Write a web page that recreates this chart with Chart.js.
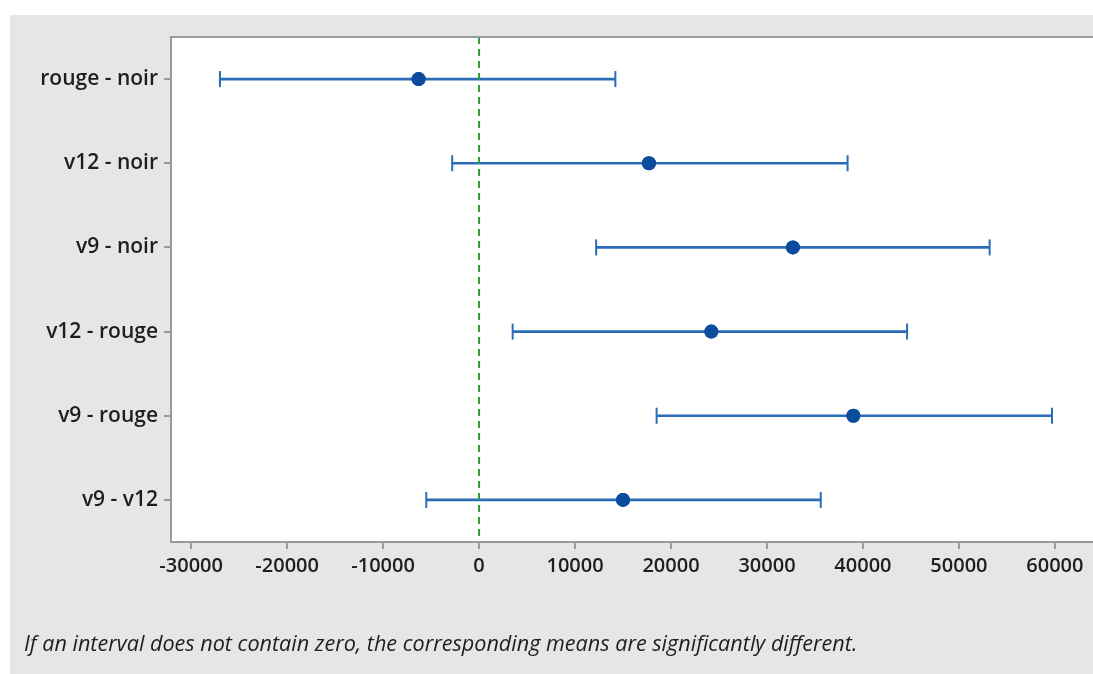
<!DOCTYPE html>
<html>
<head>
<meta charset="utf-8">
<script src="https://cdn.jsdelivr.net/npm/chart.js@4.4.1/dist/chart.umd.min.js"></script>
<style>
  html, body { margin: 0; padding: 0; background: #ffffff; overflow: hidden; width: 1093px; height: 674px; }
  #bg { position: absolute; left: 10px; top: 15px; width: 1100px; height: 680px; background: #e6e6e6; }
  #wrap { position: absolute; left: 0; top: 0; width: 1110px; height: 674px; }
  #note { position: absolute; left: 24px; top: 628px; font-family: 'Open Sans', sans-serif; font-style: italic; font-size: 21.6px; color: #1e1e1e; white-space: nowrap; }
</style>
</head>
<body>
<div id="bg"></div>
<div id="wrap"><canvas id="c" width="1110" height="674"></canvas></div>
<div id="note">If an interval does not contain zero, the corresponding means are significantly different.</div>
<script>
const categories = ['rouge - noir', 'v12 - noir', 'v9 - noir', 'v12 - rouge', 'v9 - rouge', 'v9 - v12'];
const lowerBounds = [-27000, -2800, 12200, 3500, 18500, -5500];
const centers     = [-6300, 17700, 32700, 24200, 39000, 15000];
const upperBounds = [14200, 38400, 53200, 44600, 59700, 35600];
const xTickValues = [-30000, -20000, -10000, 0, 10000, 20000, 30000, 40000, 50000, 60000];
const referenceValue = 0;

const LINE_BLUE = '#2b6cb8';
const MARK_BLUE = '#0b4d9c';

const framePlugin = {
  id: 'frame',
  beforeDraw(chart) {
    const { ctx, chartArea: a } = chart;
    ctx.save();
    ctx.fillStyle = '#ffffff';
    ctx.fillRect(a.left, a.top, a.right - a.left, a.bottom - a.top);
    ctx.restore();
  },
  afterDatasetsDraw(chart) {
    const { ctx, chartArea: a, scales } = chart;
    const xs = scales.x, ys = scales.y;
    ctx.save();
    ctx.strokeStyle = LINE_BLUE;
    ctx.lineWidth = 2;
    for (let i = 0; i < categories.length; i++) {
      const y = ys.getPixelForValue(i);
      [lowerBounds[i], upperBounds[i]].forEach(v => {
        const x = xs.getPixelForValue(v);
        ctx.beginPath();
        ctx.moveTo(x, y - 8);
        ctx.lineTo(x, y + 8);
        ctx.stroke();
      });
    }
    const x0 = xs.getPixelForValue(referenceValue);
    ctx.strokeStyle = '#2f9a3a';
    ctx.lineWidth = 2;
    ctx.setLineDash([7, 5]);
    ctx.beginPath();
    ctx.moveTo(x0, a.top);
    ctx.lineTo(x0, a.bottom);
    ctx.stroke();
    ctx.setLineDash([]);
    const meta = chart.getDatasetMeta(1);
    ctx.fillStyle = MARK_BLUE;
    meta.data.forEach(p => {
      ctx.beginPath();
      ctx.arc(p.x, p.y, 7, 0, Math.PI * 2);
      ctx.fill();
    });
    ctx.strokeStyle = '#9a9a9a';
    ctx.lineWidth = 2;
    ctx.strokeRect(a.left, a.top, a.right - a.left, a.bottom - a.top);
    ctx.restore();
  }
};

new Chart(document.getElementById('c'), {
  type: 'bar',
  data: {
    labels: categories,
    datasets: [
      {
        type: 'bar',
        data: lowerBounds.map((l, i) => [l, upperBounds[i]]),
        backgroundColor: LINE_BLUE,
        borderWidth: 0,
        barThickness: 2,
        order: 2
      },
      {
        type: 'line',
        indexAxis: 'y',
        data: centers,
        showLine: false,
        pointStyle: 'circle',
        pointRadius: 7,
        pointBackgroundColor: MARK_BLUE,
        pointBorderWidth: 0,
        order: 1
      }
    ]
  },
  options: {
    indexAxis: 'y',
    responsive: false,
    animation: false,
    layout: { padding: { top: 37, right: 10, bottom: 0, left: 0 } },
    plugins: { legend: { display: false }, tooltip: { enabled: false } },
    scales: {
      x: {
        type: 'linear',
        min: -32100,
        max: 64700,
        afterBuildTicks(scale) { scale.ticks = xTickValues.map(v => ({ value: v })); },
        afterFit(scale) { scale.height = 132; },
        grid: { drawOnChartArea: false, drawTicks: true, tickLength: 7, color: '#9a9a9a', lineWidth: 2 },
        border: { display: false },
        ticks: {
          color: '#1e1e1e',
          padding: 5,
          maxRotation: 0,
          autoSkip: false,
          font: { family: 'Open Sans', size: 20, weight: '600' },
          callback: v => String(v)
        }
      },
      y: {
        type: 'category',
        afterFit(scale) { scale.width = 171; },
        grid: { drawOnChartArea: false, drawTicks: true, tickLength: 7, color: '#9a9a9a', lineWidth: 2, offset: false },
        border: { display: false },
        ticks: {
          color: '#1e1e1e',
          padding: 6,
          font: { family: 'Open Sans', size: 21, weight: '600' }
        }
      }
    }
  },
  plugins: [framePlugin]
});
</script>
</body>
</html>
